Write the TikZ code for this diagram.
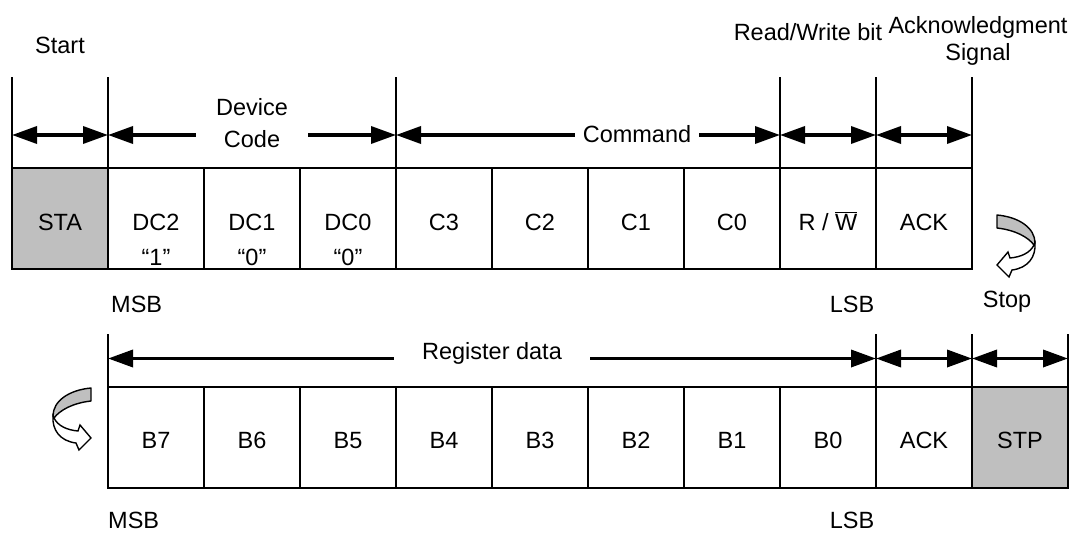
\documentclass[tikz,border=0pt]{standalone}
\usepackage{fontspec}
\setmainfont{Liberation Sans}
\usetikzlibrary{arrows.meta,calc,positioning}
\newcommand{\rwlabel}{R / $\overline{\mbox{W}}$}
\tikzset{
  curl/.pic={
    % grey part of the turning arrow
    \filldraw[fill=black!25,line width=1.4pt,line join=round] (2,0) .. controls (24,2) and (40,13) .. (40,28) -- (39,30) .. controls (33,22) and (20,15) .. (2,13) -- cycle;
    % white part with the head
    \filldraw[fill=white,line width=1.4pt] (40,28) .. controls (41,42) and (33,53) .. (17,55) -- (14,62) -- (2,50) -- (13,37) -- (15,43) .. controls (26,42) and (35,38) .. (39,30) -- cycle;
  }
}

\begin{document}
\begin{tikzpicture}[x=1pt,y=-1pt,
  font=\fontsize{23.5}{32}\selectfont,
  >={Triangle[length=25pt,width=17pt]},
  cell/.style={draw,line width=2pt,minimum width=96pt,minimum height=101pt,inner sep=0pt,outer sep=0pt,text height=23pt,text depth=0pt},
  grey/.style={cell,fill=black!25},
  lbl/.style={inner sep=0pt},
  tick/.style={line width=1.8pt},
  dim/.style={line width=3.5pt}]
  \useasboundingbox (0,0) rectangle (1077,536);
  % first frame
  \node[grey] (sta) at (60,218.5) {STA};
  \foreach \n/\lab [count=\i] in {dc2/DC2,dc1/DC1,dc0/DC0,c3/C3,c2/C2,c1/C1,c0/C0,rw/\rwlabel,ack/ACK}
    \node[cell] (\n) at (60+96*\i,218.5) {\lab};
  % bit values of the device code
  \foreach \n/\v in {dc2/1,dc1/0,dc0/0}
    \node[lbl,anchor=base] (v-\n) at ([yshift=-35pt]\n.base) {“\v”};
  % tick lines
  \foreach \a in {sta.north west,dc2.north west,c3.north west,rw.north west,ack.north west,ack.north east}
    \draw[tick] (\a) -- ++(0,-91);
  % spans
  \draw[dim,<->] ([yshift=33pt]sta.north west) -- ([yshift=33pt]sta.north east);
  \node[lbl,align=center,inner xsep=20pt] (devcode) at (252,123) {Device\\Code};
  \coordinate (dcl) at ([yshift=33pt]dc2.north west);
  \coordinate (dcr) at ([yshift=33pt]dc0.north east);
  \draw[dim,<-] (dcl) -- (dcl -| devcode.west);
  \draw[dim,->] (devcode.east |- dcr) -- (dcr);
  \node[lbl,inner xsep=8pt] (cmd) at (637,134.5) {Command};
  \coordinate (cml) at ([yshift=33pt]c3.north west);
  \coordinate (cmr) at ([yshift=33pt]c0.north east);
  \draw[dim,<-] (cml) -- (cml -| cmd.west);
  \draw[dim,->] (cmd.east |- cmr) -- (cmr);
  \draw[dim,<->] ([yshift=33pt]rw.north west) -- ([yshift=33pt]rw.north east);
  \draw[dim,<->] ([yshift=33pt]ack.north west) -- ([yshift=33pt]ack.north east);
  % labels
  \node[lbl,anchor=base] (start) at (60,53) {Start};
  \node[lbl,anchor=base] (rwbit) at (808,40) {Read/Write bit};
  \node[lbl,align=center,font=\fontsize{23.5}{27}\selectfont] (acksig) at (978,40.5) {Acknowledgment\\Signal};
  \node[lbl,anchor=base west] (msb1) at (111,312) {MSB};
  \node[lbl,anchor=base] (lsb1) at (852,312) {LSB};
  \node[lbl,anchor=base] (stop) at (1007,307) {Stop};
  % turning arrows
  \pic at (995,215) {curl};
  \pic[xscale=-1] at (93,388) {curl};
  % second frame
  \foreach \n/\lab [count=\i from 0] in {b7/B7,b6/B6,b5/B5,b4/B4,b3/B3,b2/B2,b1/B1,b0/B0,ack2/ACK}
    \node[cell] (\n) at (156+96*\i,437) {\lab};
  \node[grey] (stp) at (1020,437) {STP};
  \foreach \a in {b7.north west,b0.north east,ack2.north east,stp.north east}
    \draw[tick] (\a) -- ++(0,-53);
  \node[lbl,inner xsep=28pt] (regdata) at (492,353) {Register data};
  \coordinate (rgl) at ([yshift=28pt]b7.north west);
  \coordinate (rgr) at ([yshift=28pt]b0.north east);
  \draw[dim,<-] (rgl) -- (rgl -| regdata.west);
  \draw[dim,->] (regdata.east |- rgr) -- (rgr);
  \draw[dim,<->] ([yshift=28pt]ack2.north west) -- ([yshift=28pt]ack2.north east);
  \draw[dim,<->] ([yshift=28pt]stp.north west) -- ([yshift=28pt]stp.north east);
  \node[lbl,anchor=base west] (msb2) at (108,528) {MSB};
  \node[lbl,anchor=base] (lsb2) at (852,528) {LSB};
\end{tikzpicture}
\end{document}
